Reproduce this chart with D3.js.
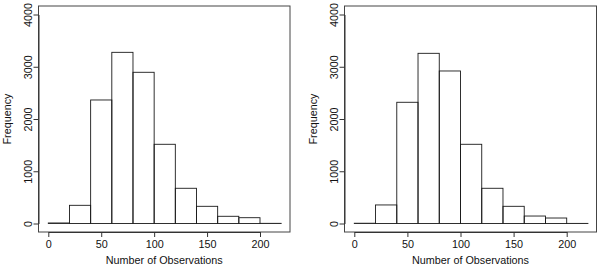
<!DOCTYPE html>
<html>
<head>
<meta charset="utf-8">
<script src="https://cdn.jsdelivr.net/npm/d3@7"></script>
<style>
  body { margin: 0; background: #fff; }
  svg { display: block; }
  text { font-family: "Liberation Sans", Arial, sans-serif; fill: #111; }
</style>
</head>
<body>
<svg width="600" height="269"></svg>
<script>
// histogram bins (breaks every 20)
var binEdges = [0, 20, 40, 60, 80, 100, 120, 140, 160, 180, 200, 220];
var leftCounts = [10, 348, 2364, 3276, 2894, 1516, 674, 329, 138, 111, 3];
var rightCounts = [5, 355, 2320, 3257, 2919, 1516, 674, 329, 143, 105, 2];
var xTicks = [0, 50, 100, 150, 200];
var yTicks = [0, 1000, 2000, 3000, 4000];
var xTitle = "Number of Observations";
var yTitle = "Frequency";

var svg = d3.select("svg");
var fontSize = "10.8px";

var panels = [
    {counts: leftCounts, left: 38.5, right: 290, x0: 48.3, x200: 260},
    {counts: rightCounts, left: 344.5, right: 596.5, x0: 354.3, x200: 566.7}
];
var boxTop = 6, boxBottom = 232;

var yScale = d3.scaleLinear()
    .domain([0, 4000])
    .range([223.5, 14.5]);

panels.forEach(function(p) {
    var xScale = d3.scaleLinear()
        .domain([0, 200])
        .range([p.x0, p.x200]);

    var bins = p.counts.map(function(c, i) {
        return {x0: binEdges[i], x1: binEdges[i + 1], n: c};
    });

    var g = svg.append("g");

    g.selectAll("rect.bar")
        .data(bins)
        .enter().append("rect")
        .attr("class", "bar")
        .attr("x", function(d) { return xScale(d.x0); })
        .attr("width", function(d) { return xScale(d.x1) - xScale(d.x0); })
        .attr("y", function(d) { return yScale(d.n); })
        .attr("height", function(d) { return yScale(0) - yScale(d.n); })
        .attr("fill", "none")
        .attr("stroke", "#1a1a1a")
        .attr("stroke-width", 0.9);

    // frame
    g.append("rect")
        .attr("x", p.left)
        .attr("y", boxTop)
        .attr("width", p.right - p.left)
        .attr("height", boxBottom - boxTop)
        .attr("fill", "none")
        .attr("stroke", "#444")
        .attr("stroke-width", 1);

    var xAxis = d3.axisBottom(xScale)
        .tickValues(xTicks)
        .tickFormat(d3.format("d"))
        .tickSize(5)
        .tickSizeOuter(0);

    var gx = g.append("g")
        .attr("transform", "translate(0," + boxBottom + ")")
        .call(xAxis);
    gx.select(".domain").attr("stroke", "#333");
    gx.selectAll(".tick line").attr("stroke", "#333");
    gx.selectAll("text")
        .attr("y", 15.5)
        .attr("dy", 0)
        .style("font-size", fontSize)
        .style("font-family", "'Liberation Sans', Arial, sans-serif")
        .attr("fill", "#111");

    var yAxis = d3.axisLeft(yScale)
        .tickValues(yTicks)
        .tickFormat(d3.format("d"))
        .tickSize(5)
        .tickSizeOuter(0);

    var gy = g.append("g")
        .attr("transform", "translate(" + p.left + ",0)")
        .call(yAxis);
    gy.select(".domain").attr("stroke", "#333");
    gy.selectAll(".tick line").attr("stroke", "#333");
    gy.selectAll("text")
        .attr("x", 0)
        .attr("dy", 0)
        .attr("text-anchor", "middle")
        .attr("transform", "translate(-7,0) rotate(-90)")
        .style("font-size", fontSize)
        .style("font-family", "'Liberation Sans', Arial, sans-serif")
        .attr("fill", "#111");

    g.append("text")
        .attr("x", (p.left + p.right) / 2)
        .attr("y", 264)
        .attr("text-anchor", "middle")
        .style("font-size", fontSize)
        .text(xTitle);

    g.append("text")
        .attr("transform", "translate(" + (p.left - 28) + "," + ((boxTop + boxBottom) / 2) + ") rotate(-90)")
        .attr("text-anchor", "middle")
        .style("font-size", fontSize)
        .text(yTitle);
});
</script>
</body>
</html>
